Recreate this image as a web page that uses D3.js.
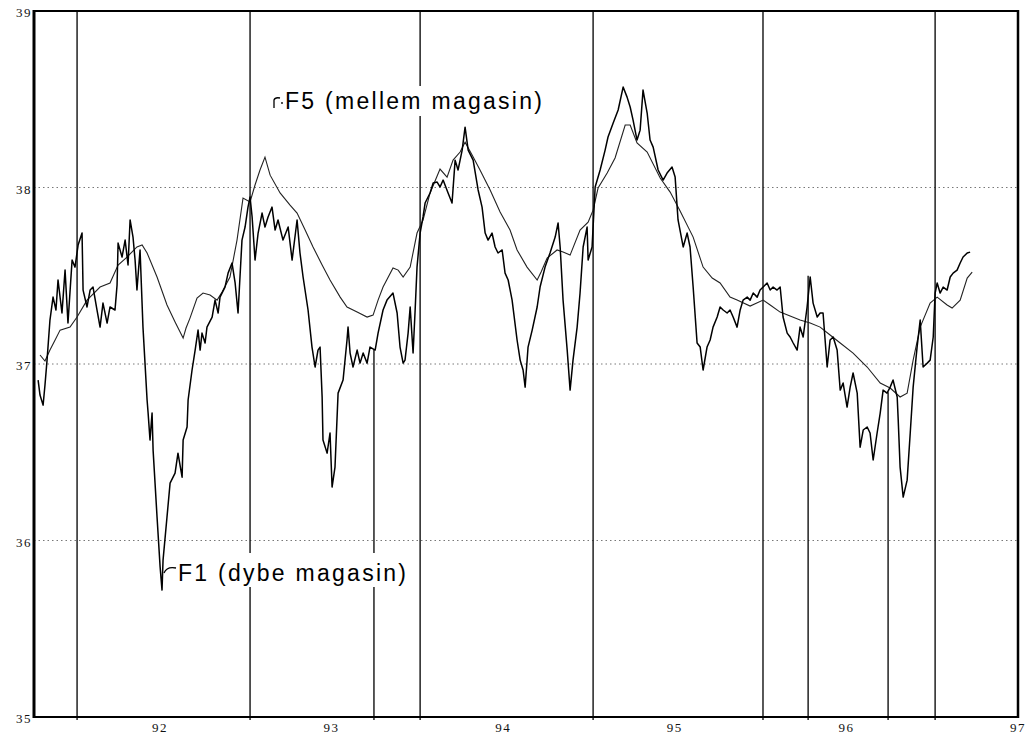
<!DOCTYPE html>
<html>
<head>
<meta charset="utf-8">
<script src="https://d3js.org/d3.v7.min.js"></script>
<style>
  body { margin: 0; background: #fff; }
  svg { display: block; }
</style>
</head>
<body>
<div id="chart"></div>
<script>
// F1 (dybe magasin) - water level, decimal year / m
const f1Years = [
  91.290, 91.301, 91.319, 91.330, 91.342, 91.359, 91.377, 91.394, 91.406, 91.429,
  91.447, 91.464, 91.488, 91.505, 91.523, 91.546, 91.552, 91.575, 91.593, 91.610,
  91.633, 91.651, 91.668, 91.692, 91.709, 91.738, 91.750, 91.756, 91.779, 91.797,
  91.814, 91.826, 91.843, 91.855, 91.866, 91.884, 91.901, 91.925, 91.931, 91.942,
  91.954, 91.960, 91.983, 92.001, 92.012, 92.018, 92.041, 92.059, 92.088, 92.105,
  92.129, 92.135, 92.158, 92.164, 92.187, 92.205, 92.222, 92.234, 92.245, 92.263,
  92.274, 92.304, 92.321, 92.339, 92.350, 92.379, 92.397, 92.420, 92.438, 92.455,
  92.478, 92.496, 92.513, 92.525, 92.537, 92.554, 92.572, 92.595, 92.612, 92.630,
  92.653, 92.671, 92.688, 92.717, 92.747, 92.770, 92.799, 92.816, 92.834, 92.863,
  92.886, 92.904, 92.921, 92.933, 92.945, 92.950, 92.974, 92.991, 93.003, 93.020,
  93.038, 93.067, 93.090, 93.096, 93.108, 93.125, 93.149, 93.166, 93.184, 93.207,
  93.224, 93.254, 93.271, 93.300, 93.323, 93.358, 93.382, 93.399, 93.417, 93.428,
  93.446, 93.458, 93.475, 93.487, 93.498, 93.516, 93.533, 93.545, 93.574, 93.592,
  93.615, 93.632, 93.650, 93.679, 93.702, 93.720, 93.737, 93.761, 93.778, 93.796,
  93.825, 93.854, 93.877, 93.895, 93.912, 93.935, 93.953, 93.970, 93.994, 94.011,
  94.029, 94.052, 94.081, 94.099, 94.116, 94.128, 94.145, 94.169, 94.198, 94.215,
  94.244, 94.273, 94.303, 94.320, 94.332, 94.349, 94.373, 94.390, 94.407, 94.431,
  94.448, 94.466, 94.489, 94.495, 94.518, 94.536, 94.565, 94.594, 94.611, 94.641,
  94.670, 94.699, 94.722, 94.740, 94.757, 94.780, 94.798, 94.815, 94.839, 94.856,
  94.874, 94.903, 94.932, 94.955, 94.984, 95.002, 95.019, 95.049, 95.072, 95.089,
  95.107, 95.130, 95.148, 95.165, 95.188, 95.206, 95.223, 95.247, 95.264, 95.282,
  95.305, 95.322, 95.340, 95.363, 95.381, 95.398, 95.422, 95.439, 95.457, 95.480,
  95.497, 95.515, 95.538, 95.556, 95.573, 95.596, 95.614, 95.631, 95.655, 95.672,
  95.690, 95.713, 95.730, 95.748, 95.771, 95.789, 95.806, 95.830, 95.847, 95.864,
  95.888, 95.905, 95.923, 95.946, 95.964, 95.981, 96.004, 96.022, 96.039, 96.063,
  96.080, 96.098, 96.121, 96.138, 96.156, 96.179, 96.197, 96.214, 96.237, 96.255,
  96.272, 96.296, 96.302, 96.313, 96.331, 96.354, 96.372, 96.389, 96.412, 96.430,
  96.447, 96.471, 96.488, 96.506, 96.517, 96.529, 96.546, 96.564, 96.587, 96.605,
  96.622, 96.645, 96.663, 96.680, 96.704, 96.721
];
const f1Levels = [
  36.909, 36.824, 36.767, 36.881, 37.022, 37.249, 37.379, 37.306, 37.476, 37.289,
  37.532, 37.232, 37.589, 37.549, 37.674, 37.742, 37.419, 37.323, 37.419, 37.436,
  37.306, 37.209, 37.345, 37.232, 37.323, 37.306, 37.447, 37.685, 37.606, 37.702,
  37.561, 37.816, 37.719, 37.589, 37.419, 37.646, 37.209, 36.796, 36.722, 36.569,
  36.722, 36.512, 36.133, 35.849, 35.719, 35.889, 36.133, 36.325, 36.382, 36.495,
  36.359, 36.569, 36.643, 36.796, 36.966, 37.079, 37.192, 37.079, 37.175, 37.119,
  37.209, 37.266, 37.362, 37.289, 37.379, 37.436, 37.515, 37.572, 37.459, 37.289,
  37.702, 37.776, 37.889, 37.946, 37.833, 37.589, 37.742, 37.855, 37.776, 37.833,
  37.889, 37.759, 37.816, 37.702, 37.776, 37.589, 37.816, 37.629, 37.493, 37.306,
  37.096, 36.983, 37.079, 37.096, 36.813, 36.569, 36.495, 36.609, 36.303, 36.416,
  36.835, 36.909, 37.136, 37.209, 37.062, 36.983, 37.079, 37.005, 37.062, 37.005,
  37.096, 37.079, 37.175, 37.306, 37.362, 37.402, 37.289, 37.096, 37.005, 37.022,
  37.175, 37.323, 37.062, 37.306, 37.549, 37.742, 37.833, 37.912, 37.969, 38.025,
  38.031, 38.003, 38.042, 37.969, 37.912, 38.155, 38.099, 38.212, 38.342, 38.212,
  38.155, 37.986, 37.889, 37.742, 37.702, 37.742, 37.663, 37.629, 37.646, 37.515,
  37.476, 37.362, 37.136, 37.022, 36.966, 36.869, 37.096, 37.192, 37.323, 37.436,
  37.549, 37.629, 37.719, 37.799, 37.663, 37.362, 37.079, 36.852, 37.022, 37.209,
  37.402, 37.663, 37.776, 37.589, 37.663, 38.003, 38.099, 38.212, 38.286, 38.365,
  38.439, 38.569, 38.512, 38.456, 38.382, 38.269, 38.325, 38.552, 38.422, 38.269,
  38.229, 38.099, 38.042, 38.082, 38.116, 38.059, 37.816, 37.663, 37.742, 37.663,
  37.436, 37.119, 37.096, 36.966, 37.096, 37.136, 37.209, 37.266, 37.323, 37.306,
  37.289, 37.306, 37.266, 37.209, 37.306, 37.362, 37.379, 37.362, 37.402, 37.379,
  37.419, 37.436, 37.459, 37.419, 37.436, 37.419, 37.436, 37.266, 37.175, 37.153,
  37.119, 37.079, 37.209, 37.153, 37.323, 37.493, 37.345, 37.266, 37.289, 37.289,
  36.983, 37.136, 37.153, 37.079, 36.852, 36.892, 36.756, 36.869, 36.949, 36.835,
  36.529, 36.626, 36.643, 36.609, 36.456, 36.609, 36.722, 36.852, 36.835, 36.869,
  36.909, 36.813, 36.682, 36.416, 36.246, 36.342, 36.609, 36.869, 37.096, 37.249,
  36.983, 37.005, 37.022, 37.153, 37.402, 37.459, 37.402, 37.436, 37.419, 37.493,
  37.515, 37.532, 37.572, 37.606, 37.629, 37.634
];

// F5 (mellem magasin)
const f5Years = [
  91.301, 91.330, 91.359, 91.389, 91.418, 91.476, 91.517, 91.575, 91.651, 91.709,
  91.756, 91.808, 91.866, 91.896, 91.925, 91.983, 92.041, 92.088, 92.135, 92.152,
  92.175, 92.216, 92.251, 92.292, 92.333, 92.362, 92.408, 92.449, 92.484, 92.525,
  92.554, 92.583, 92.612, 92.642, 92.700, 92.758, 92.799, 92.846, 92.892, 92.945,
  92.991, 93.050, 93.090, 93.149, 93.207, 93.242, 93.271, 93.300, 93.358, 93.388,
  93.417, 93.458, 93.498, 93.533, 93.574, 93.632, 93.673, 93.708, 93.749, 93.778,
  93.819, 93.865, 93.924, 93.982, 94.040, 94.081, 94.139, 94.198, 94.221, 94.256,
  94.314, 94.349, 94.390, 94.448, 94.495, 94.524, 94.553, 94.606, 94.652, 94.711,
  94.740, 94.780, 94.839, 94.915, 94.973, 95.031, 95.107, 95.165, 95.218, 95.264,
  95.322, 95.363, 95.439, 95.515, 95.556, 95.614, 95.672, 95.730, 95.789, 95.847,
  95.905, 95.964, 96.039, 96.121, 96.197, 96.255, 96.313, 96.354, 96.389, 96.430,
  96.488, 96.529, 96.587, 96.616, 96.663, 96.704, 96.733
];
const f5Levels = [
  37.051, 37.017, 37.079, 37.136, 37.192, 37.209, 37.266, 37.362, 37.436, 37.459,
  37.561, 37.606, 37.663, 37.674, 37.629, 37.493, 37.334, 37.238, 37.147, 37.204,
  37.260, 37.374, 37.402, 37.391, 37.362, 37.408, 37.493, 37.702, 37.940, 37.918,
  38.014, 38.099, 38.172, 38.070, 37.969, 37.900, 37.855, 37.759, 37.663, 37.561,
  37.476, 37.379, 37.323, 37.294, 37.266, 37.277, 37.362, 37.436, 37.544, 37.532,
  37.493, 37.549, 37.742, 37.816, 37.969, 38.104, 38.059, 38.155, 38.201, 38.257,
  38.184, 38.099, 37.986, 37.861, 37.759, 37.646, 37.549, 37.476, 37.521, 37.600,
  37.646, 37.634, 37.617, 37.759, 37.804, 37.872, 37.997, 38.082, 38.167, 38.354,
  38.354, 38.252, 38.201, 38.054, 37.974, 37.867, 37.719, 37.549, 37.487, 37.459,
  37.379, 37.362, 37.328, 37.362, 37.334, 37.294, 37.272, 37.249, 37.232, 37.209,
  37.164, 37.119, 37.062, 36.983, 36.892, 36.864, 36.813, 36.835, 37.022, 37.209,
  37.345, 37.379, 37.334, 37.317, 37.362, 37.487, 37.521
];

// vertical marker lines (year, top level reached)
const eventYears = [91.517, 92.525, 93.247, 93.516, 94.524, 95.514, 95.777, 96.243, 96.517];
const eventTops  = [39, 39, 37.08, 39, 39, 39, 37.50, 36.84, 39];

const yTicks = [35, 36, 37, 38, 39];
const yGrid = [36, 37, 38];
const xTicks = [92, 93, 94, 95, 96, 97];


let width = 1036, height = 738;

let svg = d3.select("#chart").append("svg")
  .attr("width", width)
  .attr("height", height)
  .style("background", "#fff");

let x = d3.scaleLinear().domain([91.266, 97]).range([34, 1018]);
let y = d3.scaleLinear().domain([35, 39]).range([717, 11]);

// dotted grid
svg.selectAll(".grid")
  .data(yGrid)
  .enter()
  .append("line")
  .attr("class", "grid")
  .attr("x1", x(91.266))
  .attr("x2", x(97))
  .attr("y1", d => y(d))
  .attr("y2", d => y(d))
  .attr("stroke", "#555")
  .attr("stroke-width", 0.8)
  .attr("stroke-dasharray", "1.5,3");

// vertical markers
svg.selectAll(".event")
  .data(eventYears)
  .enter()
  .append("line")
  .attr("class", "event")
  .attr("x1", d => x(d))
  .attr("x2", d => x(d))
  .attr("y1", (d, i) => y(eventTops[i]))
  .attr("y2", y(35) + 3)
  .attr("stroke", "#111")
  .attr("stroke-width", 1.4);

// white boxes behind the labels break the marker lines
svg.append("rect").attr("x", 266).attr("y", 86).attr("width", 282).attr("height", 30).attr("fill", "#fff");
svg.append("rect").attr("x", 176).attr("y", 553).attr("width", 234).attr("height", 34).attr("fill", "#fff");

let line = d3.line()
  .x(d => x(d[0]))
  .y(d => y(d[1]));

svg.append("path")
  .datum(d3.zip(f5Years, f5Levels))
  .attr("fill", "none")
  .attr("stroke", "#222")
  .attr("stroke-width", 1.1)
  .attr("d", line);

svg.append("path")
  .datum(d3.zip(f1Years, f1Levels))
  .attr("fill", "none")
  .attr("stroke", "#000")
  .attr("stroke-width", 1.5)
  .attr("stroke-linejoin", "round")
  .attr("d", line);

// labels
svg.append("path")
  .attr("d", "M274,108 L274,100 Q275,97 280,98")
  .attr("fill", "none").attr("stroke", "#000").attr("stroke-width", 1.3);
svg.append("circle").attr("cx", 282).attr("cy", 103).attr("r", 0.9).attr("fill", "#000");
svg.append("text")
  .attr("x", 285)
  .attr("y", 109)
  .attr("font-family", "'Liberation Sans', Arial, sans-serif")
  .attr("font-size", "23px")
  .attr("textLength", 257)
  .attr("lengthAdjust", "spacing")
  .attr("fill", "#000")
  .text("F5 (mellem magasin)");

svg.append("path")
  .attr("d", "M164,573 Q167,566 176,568")
  .attr("fill", "none").attr("stroke", "#000").attr("stroke-width", 1.3);
svg.append("text")
  .attr("x", 178)
  .attr("y", 581)
  .attr("font-family", "'Liberation Sans', Arial, sans-serif")
  .attr("font-size", "23px")
  .attr("textLength", 228)
  .attr("lengthAdjust", "spacing")
  .attr("fill", "#000")
  .text("F1 (dybe magasin)");

// tick labels
svg.selectAll(".ylab")
  .data(yTicks)
  .enter()
  .append("text")
  .attr("class", "ylab")
  .attr("x", 32)
  .attr("y", d => y(d) + 6)
  .attr("text-anchor", "end")
  .attr("font-family", "'Liberation Serif', serif")
  .attr("font-size", "13px")
  .attr("letter-spacing", "1.5px")
  .attr("fill", "#111")
  .text(d => d);

svg.selectAll(".xlab")
  .data(xTicks)
  .enter()
  .append("text")
  .attr("class", "xlab")
  .attr("x", d => x(d))
  .attr("y", 732)
  .attr("text-anchor", "middle")
  .attr("font-family", "'Liberation Serif', serif")
  .attr("font-size", "13px")
  .attr("letter-spacing", "1.5px")
  .attr("fill", "#111")
  .text(d => d);

// frame
let frame = svg.append("g").attr("stroke", "#000").attr("fill", "none");
frame.append("line").attr("x1", x(91.266)).attr("x2", x(97)).attr("y1", y(39)).attr("y2", y(39)).attr("stroke-width", 2);
frame.append("line").attr("x1", x(91.266)).attr("x2", x(97)).attr("y1", y(35)).attr("y2", y(35)).attr("stroke-width", 2.2);
frame.append("line").attr("x1", x(91.266)).attr("x2", x(91.266)).attr("y1", y(39) - 1).attr("y2", y(35) + 1).attr("stroke-width", 3);
frame.append("line").attr("x1", x(97)).attr("x2", x(97)).attr("y1", y(39) - 1).attr("y2", y(35) + 1).attr("stroke-width", 2.5);
</script>
</body>
</html>
